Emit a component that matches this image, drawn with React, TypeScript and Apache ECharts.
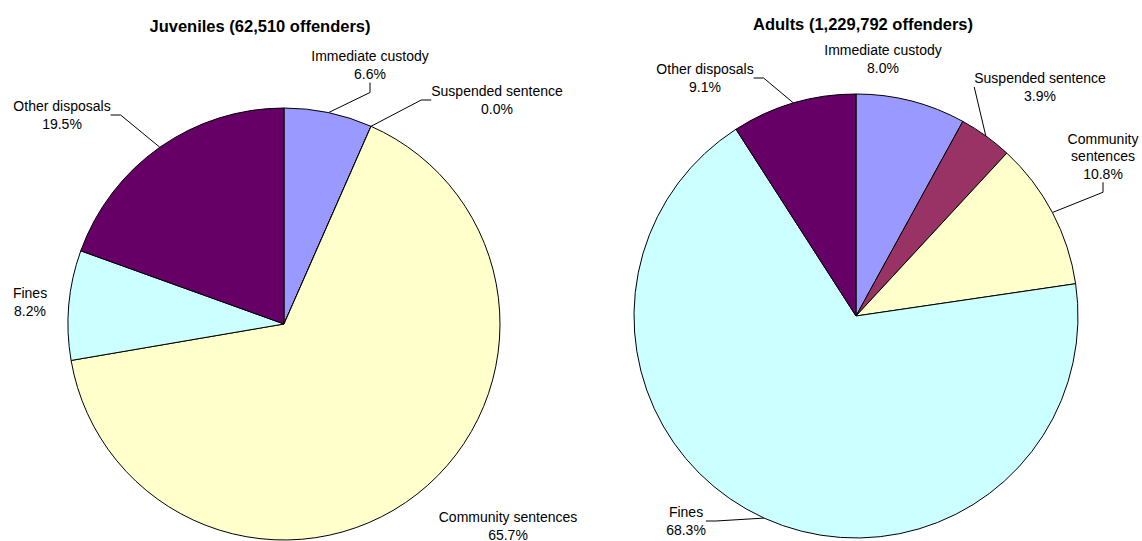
import React, { useEffect, useRef } from "react";
import * as echarts from "echarts";

const categories = [
  "Immediate custody",
  "Suspended sentence",
  "Community sentences",
  "Fines",
  "Other disposals",
];
const juvenileValues = [6.6, 0.0, 65.7, 8.2, 19.5];
const adultValues = [8.0, 3.9, 10.8, 68.3, 9.1];
const titles = ["Juveniles (62,510 offenders)", "Adults (1,229,792 offenders)"];
const colors = ["#9999FF", "#993366", "#FFFFCC", "#CCFFFF", "#660066"];

// label block centres [x, y] per series, per category (layout only)
const labelPos = [
  [[370, 65], [497, 100], [508, 526], [30, 302], [62, 115]],
  [[883, 59], [1040, 87], [1103, 156], [686, 521], [705, 78]],
];
const noLine = [[2, 3], [0]];
const wrapName: Record<string, string> = { "Community sentences": "Community\nsentences" };

export default function App() {
  const ref = useRef<HTMLDivElement>(null);
  useEffect(() => {
    if (!ref.current) return;
    const chart = echarts.init(ref.current, null, { renderer: "svg" });
    const makeSeries = (idx: number, values: number[], center: number[], radius: number) => ({
      type: "pie",
      center,
      radius,
      startAngle: 90,
      clockwise: true,
      avoidLabelOverlap: false,
      silent: true,
      data: categories.map((c, i) => ({
        name: c,
        value: values[i],
        itemStyle: { color: colors[i] },
        labelLine: { show: !noLine[idx].includes(i) },
      })),
      itemStyle: { borderColor: "#000", borderWidth: 1 },
      label: {
        show: true,
        position: "outside",
        color: "#000",
        fontFamily: "Liberation Sans, Arial",
        fontSize: 14,
        lineHeight: 17.5,
        align: "center",
        formatter: (p: any) => {
          const nm = idx === 1 && wrapName[p.name] ? wrapName[p.name] : p.name;
          return `${nm}\n${Number(p.value).toFixed(1)}%`;
        },
      },
      labelLine: { show: true, length: 10, length2: 10, lineStyle: { color: "#000", width: 1 } },
      labelLayout: (p: any) => {
        const pos = labelPos[idx][p.dataIndex];
        return { x: pos[0], y: pos[1], align: "center", verticalAlign: "middle" };
      },
    });
    const titleStyle = { fontFamily: "Liberation Sans, Arial", fontSize: 16.5, fontWeight: "bold", color: "#000" };
    chart.setOption({
      animation: false,
      backgroundColor: "#fff",
      title: [
        { text: titles[0], left: 255, top: 12, textAlign: "center", textStyle: titleStyle },
        { text: titles[1], left: 858, top: 10, textAlign: "center", textStyle: titleStyle },
      ],
      series: [
        makeSeries(0, juvenileValues, [284, 324], 216),
        makeSeries(1, adultValues, [856, 316], 222),
      ],
    });
    return () => chart.dispose();
  }, []);
  return (
    <div
      ref={ref}
      style={{ position: "fixed", left: 0, top: 0, width: 1142, height: 541, background: "#fff" }}
    />
  );
}
